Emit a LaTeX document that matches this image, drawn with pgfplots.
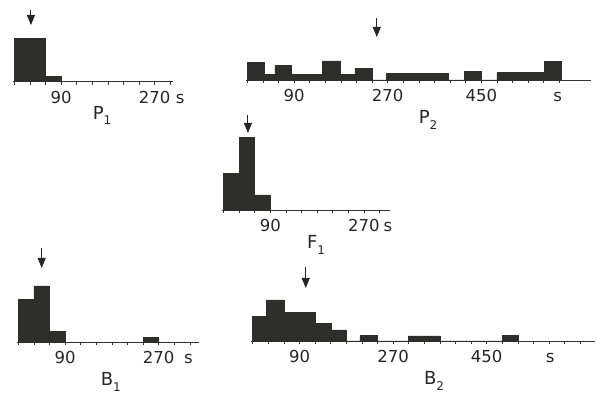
\documentclass[border=0pt]{standalone}
\usepackage{pgfplots}
\pgfplotsset{compat=1.18}
\usepackage{fontspec}
\setmainfont{DejaVu Sans}
\usetikzlibrary{arrows.meta}
\definecolor{barfill}{HTML}{2E2E2C}
\newcommand{\lab}[2]{#1\raisebox{-0.3em}{\fontsize{12}{12}\selectfont #2}}
\pgfplotsset{
 hist/.style={
  x=0.52pt, y=1pt, xmin=-3, ymin=0, ymax=100,
  anchor=south west, clip=false,
  axis x line=bottom, axis y line=none,
  axis line style={-, line width=0.8pt, black!80},
  tick align=outside, major tick length=3pt,
  tick style={line width=0.7pt, black!80},
  ytick=\empty,
  xticklabel style={font=\fontsize{16.5}{18}\selectfont, text height=12pt, text depth=0pt, yshift=-3pt, text=black!85},
 },
 bars/.style={const plot mark left, fill=barfill, draw=barfill, line width=0.5pt},
}
\tikzset{
 slab/.style={anchor=north, font=\fontsize{16.5}{18}\selectfont, text height=12pt, text depth=0pt, yshift=-6pt, text=black!85},
 arr/.style={-{Triangle[length=10pt,width=8pt]}, line width=0.9pt, black!85},
 plab/.style={font=\fontsize{18}{18}\selectfont, text=black!85},
}
\begin{document}
\begin{tikzpicture}
\useasboundingbox (0,0) rectangle (597pt,396pt);
% P1
\begin{axis}[hist, at={(12.74pt,314.3pt)}, xmax=306, xtick={0,30,...,300}, xticklabels={,,,90,,,,,,270,}]
\addplot[bars] coordinates {(0,43.3) (60,5) (90,0)} \closedcycle;
\node[slab] at (axis cs:319,0) {s};
\draw[arr] (axis cs:32,71.7) -- (axis cs:32,56.7);
\node[plab] at (axis cs:168.7,-33.5) {\lab{P}{1}};
\end{axis}
% P2
\begin{axis}[hist, at={(245.74pt,316pt)}, xmax=660, xtick={0,30,...,600}, xticklabels={,,,90,,,,,,270,,,,,,450,,,,,,}]
\addplot[bars] coordinates {(0,17.7) (32,5.7) (53,14.3) (85,5.7) (145,19) (179,5.7) (207,11.7) (240,0) (267,6.7) (387,0) (418,8.3) (449,0) (480,7.7) (571,18.3) (604,0)} \closedcycle;
\node[slab] at (axis cs:597,0) {s};
\draw[arr] (axis cs:249,62) -- (axis cs:249,43);
\node[plab] at (axis cs:347.5,-40) {\lab{P}{2}};
\end{axis}
% F1
\begin{axis}[hist, at={(221.94pt,186pt)}, xmax=320, xtick={0,30,...,300}, xticklabels={,,,90,,,,,,270,}]
\addplot[bars] coordinates {(0,36.7) (30,72.7) (60,15) (90,0)} \closedcycle;
\node[slab] at (axis cs:316,0) {s};
\draw[arr] (axis cs:47,95) -- (axis cs:47,77);
\node[plab] at (axis cs:178,-35) {\lab{F}{1}};
\end{axis}
% B1
\begin{axis}[hist, at={(16.74pt,53.7pt)}, xmax=348, xtick={0,30,...,330}, xticklabels={,,,90,,,,,,270,,}]
\addplot[bars] coordinates {(0,43) (30,56.3) (60,10.7) (90,0) (240,4.7) (270,0)} \closedcycle;
\node[slab] at (axis cs:327,0) {s};
\draw[arr] (axis cs:45,94.3) -- (axis cs:45,74.3);
\node[plab] at (axis cs:178,-39.7) {\lab{B}{1}};
\end{axis}
% B2
\begin{axis}[hist, at={(251.14pt,55pt)}, xmax=658, xtick={0,30,...,630}, xticklabels={,,,90,,,,,,270,,,,,,450,,,,,,}]
\addplot[bars] coordinates {(0,24.3) (27,41) (60,28.7) (120,17.7) (152,11) (180,0) (206,5.3) (240,0) (300,5) (360,0) (480,5.7) (510,0)} \closedcycle;
\node[slab] at (axis cs:572,0) {s};
\draw[arr] (axis cs:102,74) -- (axis cs:102,53);
\node[plab] at (axis cs:348.7,-40) {\lab{B}{2}};
\end{axis}
\end{tikzpicture}
\end{document}
